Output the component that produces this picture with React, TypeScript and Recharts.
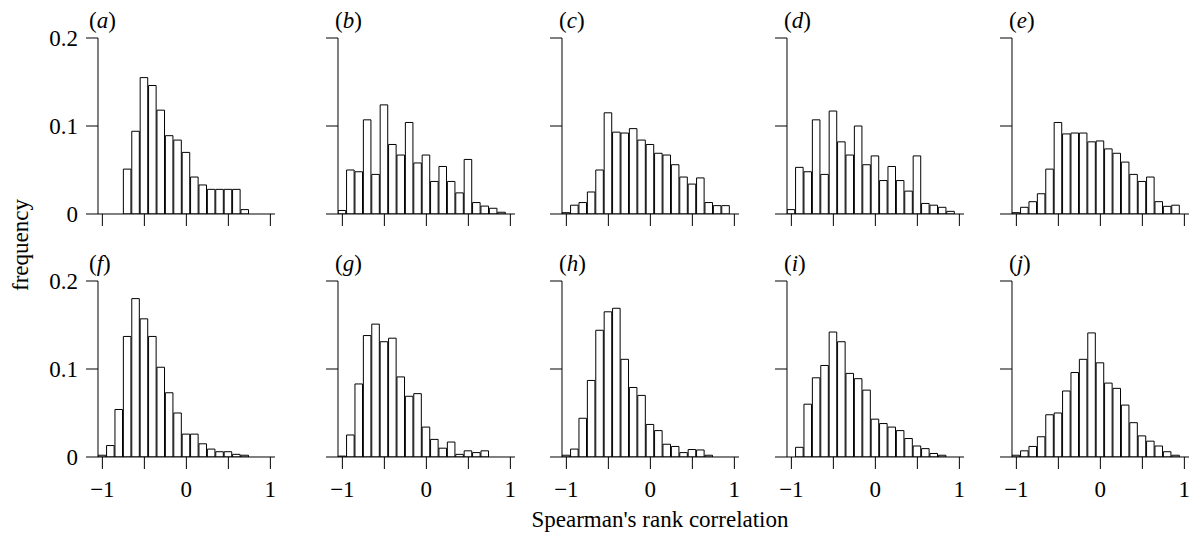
import React from 'react';
import { BarChart, Bar, XAxis, YAxis } from 'recharts';

// bin centres of the histograms (width 0.1)
const bins = [-1, -0.9, -0.8, -0.7, -0.6, -0.5, -0.4, -0.3, -0.2, -0.1, 0, 0.1, 0.2, 0.3, 0.4, 0.5, 0.6, 0.7, 0.8, 0.9, 1];

const freqA = [0, 0, 0, 0.051, 0.094, 0.155, 0.146, 0.118, 0.089, 0.084, 0.07, 0.042, 0.033, 0.028, 0.028, 0.028, 0.028, 0.005, 0, 0, 0];
const freqB = [0.004, 0.05, 0.048, 0.107, 0.045, 0.124, 0.079, 0.067, 0.104, 0.058, 0.067, 0.037, 0.054, 0.037, 0.024, 0.062, 0.013, 0.009, 0.0065, 0.002, 0];
const freqC = [0.0015, 0.01, 0.013, 0.025, 0.05, 0.115, 0.093, 0.092, 0.097, 0.084, 0.079, 0.069, 0.067, 0.056, 0.042, 0.034, 0.041, 0.013, 0.0095, 0.0095, 0];
const freqD = [0.005, 0.053, 0.048, 0.107, 0.045, 0.117, 0.082, 0.067, 0.1, 0.056, 0.066, 0.038, 0.054, 0.038, 0.026, 0.066, 0.012, 0.01, 0.0076, 0.003, 0];
const freqE = [0.0015, 0.0076, 0.014, 0.023, 0.051, 0.104, 0.091, 0.092, 0.092, 0.082, 0.083, 0.074, 0.069, 0.059, 0.045, 0.037, 0.042, 0.014, 0.0087, 0.01, 0];
const freqF = [0.002, 0.013, 0.054, 0.137, 0.18, 0.157, 0.137, 0.102, 0.073, 0.05, 0.026, 0.026, 0.015, 0.009, 0.006, 0.006, 0.003, 0.002, 0, 0, 0];
const freqG = [0.001, 0.025, 0.083, 0.138, 0.151, 0.131, 0.135, 0.091, 0.069, 0.072, 0.034, 0.02, 0.01, 0.017, 0.003, 0.007, 0.005, 0.007, 0, 0, 0];
const freqH = [0.002, 0.009, 0.044, 0.087, 0.144, 0.165, 0.169, 0.111, 0.079, 0.07, 0.037, 0.03, 0.0145, 0.012, 0.005, 0.0085, 0.008, 0.002, 0, 0, 0];
const freqI = [0, 0.011, 0.06, 0.09, 0.104, 0.142, 0.131, 0.095, 0.089, 0.076, 0.043, 0.038, 0.034, 0.03, 0.021, 0.0125, 0.0095, 0.004, 0.002, 0, 0];
const freqJ = [0.002, 0.007, 0.012, 0.023, 0.048, 0.05, 0.075, 0.096, 0.111, 0.141, 0.107, 0.084, 0.078, 0.059, 0.039, 0.024, 0.018, 0.0125, 0.006, 0.002, 0];

const panels = [freqA, freqB, freqC, freqD, freqE, freqF, freqG, freqH, freqI, freqJ];
const panelLetters = ['a', 'b', 'c', 'd', 'e', 'f', 'g', 'h', 'i', 'j'];

const xTicks = [-1, -0.5, 0, 0.5, 1];
const xTickLabels = ['\u22121', '', '0', '', '1'];
const yTicks = [0, 0.1, 0.2];
const yTickLabels = ['0', '0.1', '0.2'];

const xTitle = "Spearman's rank correlation";
const yTitle = 'frequency';

// layout
const FONT = "'Liberation Serif', 'Times New Roman', serif";
const FS = 23;
const PX_PER_UNIT = 84;
const X_DOMAIN: [number, number] = [-1.052, 1.055];
const PLOT_W = (X_DOMAIN[1] - X_DOMAIN[0]) * PX_PER_UNIT;
const PLOT_H = 176;
const BAR_W = 0.1 * PX_PER_UNIT;
const COL_X = [98, 338, 562, 787, 1012];
const ROW_Y = [38, 281];
const Y_AXIS_W = 90;
const TOP_PAD = 22;
const RIGHT_PAD = 6;
const X_AXIS_H = 50;

const Panel = ({ idx }: { idx: number }) => {
  const row = Math.floor(idx / 5);
  const col = idx % 5;
  const data = bins.map((x, i) => ({ x, v: panels[idx][i] === 0 ? null : panels[idx][i] }));
  const width = Y_AXIS_W + PLOT_W + RIGHT_PAD;
  const height = TOP_PAD + PLOT_H + X_AXIS_H;
  return (
    <div style={{ position: 'absolute', left: COL_X[col] - Y_AXIS_W, top: ROW_Y[row] - TOP_PAD }}>
      <BarChart width={width} height={height} data={data} barCategoryGap={0}
        margin={{ top: TOP_PAD, right: RIGHT_PAD, left: 0, bottom: 0 }}>
        <XAxis type="number" dataKey="x" domain={X_DOMAIN} ticks={xTicks} interval={0}
          allowDataOverflow height={X_AXIS_H} tickSize={12} tickMargin={12}
          axisLine={{ stroke: '#000' }} tickLine={{ stroke: '#000' }}
          tick={{ fill: '#000', fontSize: FS, fontFamily: FONT }}
          tickFormatter={(_v: number, i: number) => (row === 1 ? xTickLabels[i] : '')} />
        <YAxis type="number" domain={[0, 0.2]} ticks={yTicks} interval={0} allowDataOverflow
          width={Y_AXIS_W} tickSize={12} tickMargin={8}
          axisLine={{ stroke: '#000' }} tickLine={{ stroke: '#000' }}
          tick={{ fill: '#000', fontSize: FS, fontFamily: FONT }}
          tickFormatter={(_v: number, i: number) => (col === 0 ? yTickLabels[i] : '')} />
        <Bar dataKey="v" fill="#fff" stroke="#000" strokeWidth={1} barSize={BAR_W}
          isAnimationActive={false} />
      </BarChart>
    </div>
  );
};

export default function App() {
  return (
    <div style={{ position: 'absolute', left: 0, top: 0, width: 1191, height: 533, background: '#fff' }}>
      {panels.map((_, i) => <Panel key={i} idx={i} />)}
      <svg width={1191} height={533} style={{ position: 'absolute', left: 0, top: 0, pointerEvents: 'none' }}
        fontFamily={FONT} fontSize={FS} fill="#000">
        {panelLetters.map((l, i) => (
          <text key={l} x={COL_X[i % 5] - (i % 5 === 0 ? 9 : 3)} y={ROW_Y[Math.floor(i / 5)] - 10}>
            (<tspan fontStyle="italic">{l}</tspan>)
          </text>
        ))}
        <text x={20} y={245} textAnchor="middle" dominantBaseline="central" transform="rotate(-90 20 245)">{yTitle}</text>
        <text x={660} y={527} textAnchor="middle">{xTitle}</text>
      </svg>
    </div>
  );
}
